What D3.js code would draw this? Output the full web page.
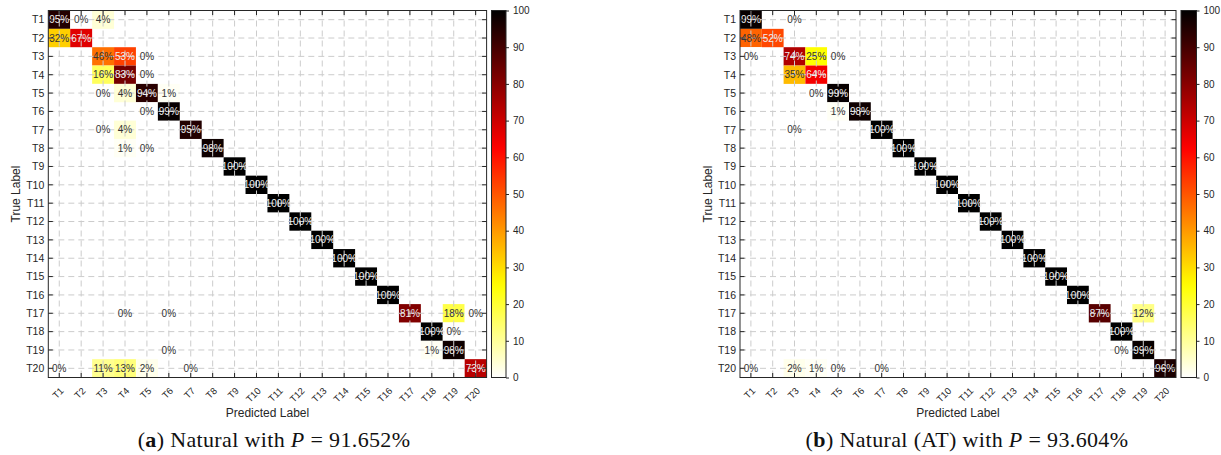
<!DOCTYPE html>
<html>
<head>
<meta charset="utf-8">
<script src="https://cdn.jsdelivr.net/npm/d3@7/dist/d3.min.js"></script>
<style>
  html, body { margin: 0; padding: 0; background: #ffffff; }
  svg { display: block; }
</style>
</head>
<body>
<svg id="chart" width="1221" height="455"></svg>
<script>
// Class labels shared by both confusion matrices
const classes = ["T1","T2","T3","T4","T5","T6","T7","T8","T9","T10",
                 "T11","T12","T13","T14","T15","T16","T17","T18","T19","T20"];

// Natural model: [true label, predicted label, percent]
const naturalCells = [
  ["T1","T1",95], ["T1","T2",0], ["T1","T3",4],
  ["T2","T1",32], ["T2","T2",67],
  ["T3","T3",46], ["T3","T4",53], ["T3","T5",0],
  ["T4","T3",16], ["T4","T4",83], ["T4","T5",0],
  ["T5","T3",0], ["T5","T4",4], ["T5","T5",94], ["T5","T6",1],
  ["T6","T5",0], ["T6","T6",99],
  ["T7","T3",0], ["T7","T4",4], ["T7","T7",95],
  ["T8","T4",1], ["T8","T5",0], ["T8","T8",98],
  ["T9","T9",100], ["T10","T10",100], ["T11","T11",100], ["T12","T12",100],
  ["T13","T13",100], ["T14","T14",100], ["T15","T15",100], ["T16","T16",100],
  ["T17","T4",0], ["T17","T6",0], ["T17","T17",81], ["T17","T19",18], ["T17","T20",0],
  ["T18","T18",100], ["T18","T19",0],
  ["T19","T6",0], ["T19","T18",1], ["T19","T19",98],
  ["T20","T1",0], ["T20","T3",11], ["T20","T4",13], ["T20","T5",2], ["T20","T7",0], ["T20","T20",73]
];

// Natural (AT) model: [true label, predicted label, percent]
const naturalATCells = [
  ["T1","T1",99], ["T1","T3",0],
  ["T2","T1",48], ["T2","T2",52],
  ["T3","T1",0], ["T3","T3",74], ["T3","T4",25], ["T3","T5",0],
  ["T4","T3",35], ["T4","T4",64],
  ["T5","T4",0], ["T5","T5",99],
  ["T6","T5",1], ["T6","T6",98],
  ["T7","T3",0], ["T7","T7",100],
  ["T8","T8",100], ["T9","T9",100], ["T10","T10",100], ["T11","T11",100],
  ["T12","T12",100], ["T13","T13",100], ["T14","T14",100], ["T15","T15",100], ["T16","T16",100],
  ["T17","T17",87], ["T17","T19",12],
  ["T18","T18",100],
  ["T19","T18",0], ["T19","T19",99],
  ["T20","T1",0], ["T20","T3",2], ["T20","T4",1], ["T20","T5",0], ["T20","T7",0], ["T20","T20",96]
];

const colorbarTicks = [0,10,20,30,40,50,60,70,80,90,100];
const captionLetters = ["a","b"];
const captionTitles = ["Natural", "Natural (AT)"];
const captionScores = ["91.652%", "93.604%"];

// Reversed "hot" colormap: white -> yellow -> red -> black
function hotReversed(t) {
  const s = 1 - t;
  const r = Math.min(1, s / 0.375);
  const g = Math.max(0, Math.min(1, (s - 0.375) / 0.375));
  const b = Math.max(0, Math.min(1, (s - 0.75) / 0.25));
  return d3.rgb(r * 255, g * 255, b * 255).toString();
}
const color = d3.scaleSequential(hotReversed).domain([0, 100]);

const svg = d3.select("#chart");
const SANS = "'Liberation Sans', Arial, Helvetica, sans-serif";
const SERIF = "'Liberation Serif', 'Times New Roman', serif";
const AXIS = "#262626";

const panels = [
  { cells: naturalCells,   x0: 48.3, x1: 486.6, cb0: 491.5, cb1: 506,    capX: 274, id: 0 },
  { cells: naturalATCells, x0: 740,  x1: 1176,  cb0: 1181,  cb1: 1196.5, capX: 967, id: 1 }
];
const plotTop = 10.5, plotBottom = 377.5;

// one gradient shared by both colorbars
const defs = svg.append("defs");
const grad = defs.append("linearGradient").attr("id", "cbGrad")
  .attr("x1", 0).attr("y1", 1).attr("x2", 0).attr("y2", 0);
d3.range(0, 101, 2).forEach(v => {
  grad.append("stop").attr("offset", v / 100).attr("stop-color", color(v));
});

panels.forEach(p => {
  const g = svg.append("g");
  const x = d3.scaleBand().domain(classes).range([p.x0, p.x1]);
  const y = d3.scaleBand().domain(classes).range([plotTop, plotBottom]);
  const bw = x.bandwidth(), bh = y.bandwidth();

  // plot background
  g.append("rect").attr("x", p.x0).attr("y", plotTop)
    .attr("width", p.x1 - p.x0).attr("height", plotBottom - plotTop).attr("fill", "#fff");

  // matrix cells
  g.append("g").selectAll("rect").data(p.cells).join("rect")
    .attr("x", d => x(d[1])).attr("y", d => y(d[0]))
    .attr("width", bw).attr("height", bh)
    .attr("fill", d => color(d[2]));

  // dashed grid through the tick centres
  const grid = g.append("g").attr("stroke", "#cccccc").attr("stroke-width", 1)
    .attr("stroke-dasharray", "6,4").attr("fill", "none");
  classes.forEach(c => {
    const cx = x(c) + bw / 2;
    grid.append("line").attr("x1", cx).attr("x2", cx).attr("y1", plotTop).attr("y2", plotBottom);
    const cy = y(c) + bh / 2;
    grid.append("line").attr("y1", cy).attr("y2", cy).attr("x1", p.x0).attr("x2", p.x1);
  });

  // cell percentages
  g.append("g").selectAll("text").data(p.cells).join("text")
    .attr("x", d => x(d[1]) + bw / 2)
    .attr("y", d => y(d[0]) + bh / 2)
    .attr("dy", "0.36em")
    .attr("text-anchor", "middle")
    .attr("font-family", SANS).attr("font-size", 10)
    .attr("fill", d => d[2] > 50 ? "#eeeeee" : "#333333")
    .text(d => d[2] + "%");

  // axes: ticks point inward on all four sides
  const tl = 4.5;
  const axisG = g.append("g").attr("stroke", AXIS).attr("stroke-width", 1);
  classes.forEach(c => {
    const cx = x(c) + bw / 2, cy = y(c) + bh / 2;
    axisG.append("line").attr("x1", cx).attr("x2", cx).attr("y1", plotBottom).attr("y2", plotBottom - tl);
    axisG.append("line").attr("x1", cx).attr("x2", cx).attr("y1", plotTop).attr("y2", plotTop + tl);
    axisG.append("line").attr("y1", cy).attr("y2", cy).attr("x1", p.x0).attr("x2", p.x0 + tl);
    axisG.append("line").attr("y1", cy).attr("y2", cy).attr("x1", p.x1).attr("x2", p.x1 - tl);
  });
  g.append("rect").attr("x", p.x0).attr("y", plotTop)
    .attr("width", p.x1 - p.x0).attr("height", plotBottom - plotTop)
    .attr("fill", "none").attr("stroke", AXIS).attr("stroke-width", 1);

  // y tick labels
  g.append("g").selectAll("text").data(classes).join("text")
    .attr("x", p.x0 - 4).attr("y", d => y(d) + bh / 2).attr("dy", "0.36em")
    .attr("text-anchor", "end").attr("font-family", SANS).attr("font-size", 10.5)
    .attr("fill", AXIS).text(d => d);

  // x tick labels, rotated 45 degrees
  g.append("g").selectAll("text").data(classes).join("text")
    .attr("transform", d => `translate(${x(d) + bw / 2 + 5},${plotBottom + 14}) rotate(-45)`)
    .attr("text-anchor", "end").attr("font-family", SANS).attr("font-size", 9.5)
    .attr("fill", AXIS).text(d => d);

  // axis titles
  g.append("text").attr("x", (p.x0 + p.x1) / 2).attr("y", 417)
    .attr("text-anchor", "middle").attr("font-family", SANS).attr("font-size", 12)
    .attr("fill", AXIS).text("Predicted Label");
  g.append("text")
    .attr("transform", `translate(${p.x0 - 28},${(plotTop + plotBottom) / 2}) rotate(-90)`)
    .attr("text-anchor", "middle").attr("font-family", SANS).attr("font-size", 12)
    .attr("fill", AXIS).text("True Label");

  // colorbar
  const cy = d3.scaleLinear().domain([0, 100]).range([plotBottom, plotTop]);
  g.append("rect").attr("x", p.cb0).attr("y", plotTop)
    .attr("width", p.cb1 - p.cb0).attr("height", plotBottom - plotTop)
    .attr("fill", "url(#cbGrad)").attr("stroke", AXIS).attr("stroke-width", 1);
  const cbAxis = d3.axisRight(cy).tickValues(colorbarTicks).tickSize(3).tickPadding(4);
  const cbG = g.append("g").attr("transform", `translate(${p.cb1},0)`).call(cbAxis);
  cbG.select(".domain").remove();
  cbG.selectAll("line").attr("stroke", AXIS);
  cbG.selectAll("text").attr("font-family", SANS).attr("font-size", 10).attr("fill", AXIS);

  // caption
  const cap = g.append("text").attr("x", p.capX).attr("y", 447)
    .attr("text-anchor", "middle").attr("font-family", SERIF).attr("font-size", 22)
    .attr("letter-spacing", 0.35).attr("fill", "#111");
  cap.append("tspan").text("(");
  cap.append("tspan").attr("font-weight", "bold").text(captionLetters[p.id]);
  cap.append("tspan").text(") " + captionTitles[p.id] + " with ");
  cap.append("tspan").attr("font-style", "italic").text("P");
  cap.append("tspan").text(" = " + captionScores[p.id]);
});
</script>
</body>
</html>
